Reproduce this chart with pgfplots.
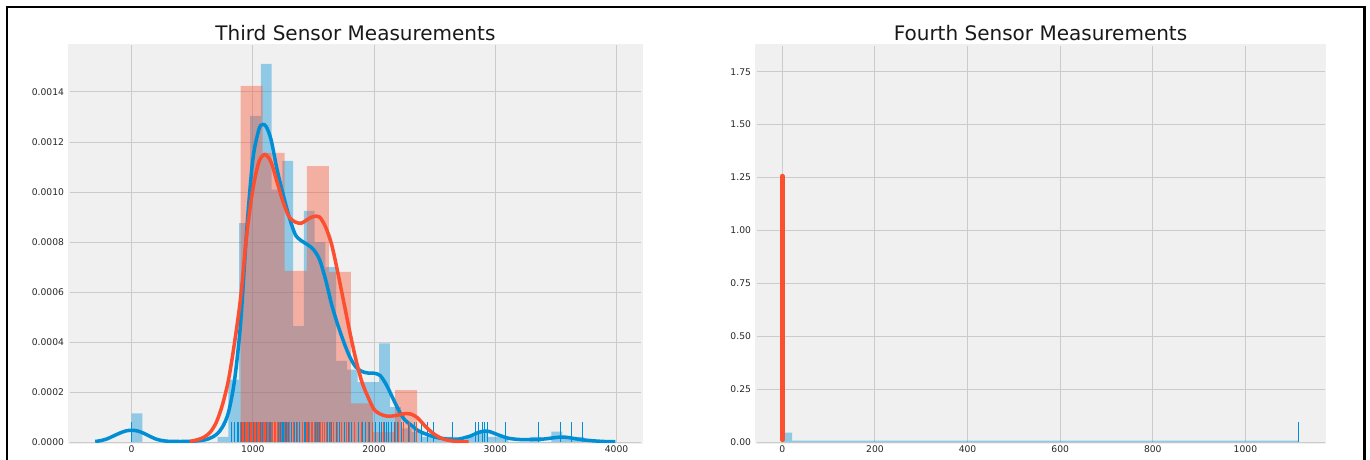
\documentclass[border=0pt]{standalone}
\usepackage{pgfplots}
\pgfplotsset{compat=1.18}
\usepackage{fontspec}
\setmainfont{DejaVu Sans}
\definecolor{cblue}{HTML}{008FD5}
\definecolor{cred}{HTML}{FC4F30}
\definecolor{bgc}{HTML}{F0F0F0}
\definecolor{gridc}{HTML}{CBCBCB}
\pgfplotsset{
  fte/.style={
    scale only axis,
    axis background/.style={fill=bgc, draw=bgc, line width=3pt},
    axis line style={draw=none},
    grid=major,
    major grid style={gridc, line width=1pt},
    major tick length=0pt,
    tick style={draw=none},
    tick label style={font=\fontsize{9.2}{11}\selectfont, text=black!85},
    /pgf/number format/assume math mode=true,
    /pgf/number format/set thousands separator={},
    scaled y ticks=false,
    scaled x ticks=false,
    every axis title/.style={at={(0.5,1)}, anchor=base, yshift=5pt, font=\fontsize{20}{24}\selectfont, text=black!90},
    yticklabel style={xshift=-2pt},
  }
}
\begin{document}
\begin{tikzpicture}
\useasboundingbox (0,0) rectangle (1370pt,459pt);
% ---------------- Left: Third sensor ----------------
\begin{axis}[fte,
  at={(69.5pt,17pt)}, anchor=south west,
  width=571.8pt, height=396.5pt,
  xmin=-512, xmax=4204, ymin=0, ymax=0.001586,
  xtick={0,1000,2000,3000,4000},
  ytick={0,0.0002,0.0004,0.0006,0.0008,0.0010,0.0012,0.0014},
  yticklabel style={/pgf/number format/.cd, fixed, fixed zerofill, precision=4},
  title={Third Sensor Measurements},
]
% blue histogram
\addplot[const plot mark left, fill=cblue, fill opacity=0.4, draw=none] coordinates {
(0,0.000115) (88.8,0) (710.4,0.000021) (799.2,0.00025) (888,0.000876) (976.8,0.001305)
(1065.6,0.001512) (1154.4,0.00101) (1243.2,0.001125) (1332,0.000464) (1420.8,0.000925)
(1509.6,0.0008) (1598.4,0.0007) (1687.2,0.000325) (1776,0.00029) (1864.8,0.00024)
(1953.6,0.00024) (2042.4,0.000395) (2131.2,0.00014) (2220,0.000055) (2308.8,0.00004)
(2397.6,0.000021) (2486.4,0.000021) (2575.2,0.000021) (2664,0) (2752.8,0.000021)
(2841.6,0.000042) (2930.4,0.000021) (3019.2,0.000021) (3108,0) (3285.6,0.000021)
(3374.4,0) (3463.2,0.000042) (3552,0.000021) (3640.8,0.000021) (3729.6,0)
} \closedcycle;
% red histogram
\addplot[const plot mark left, fill=cred, fill opacity=0.4, draw=none] coordinates {
(899,0.001424) (1081,0.001157) (1263,0.000685) (1445,0.001104) (1627,0.000681)
(1809,0.000155) (1991,0.00004) (2173,0.000208) (2355,0)
} \closedcycle;
% blue KDE
\addplot[cblue, line width=3.5pt, smooth, no marks] coordinates {
(-300,0.000002) (-250,0.000006) (-200,0.000013) (-150,0.000024) (-100,0.000035) (-50,0.000044)
(0,0.000047) (50,0.000044) (100,0.000035) (150,0.000023) (200,0.000012) (250,0.000006)
(300,0.000003) (400,0.000002) (500,0.000003) (600,0.000008) (650,0.000016) (700,0.00003)
(750,0.00006) (800,0.00012) (850,0.00025) (900,0.00048) (950,0.00085) (1000,0.00113)
(1050,0.00125) (1080,0.00127) (1110,0.001262) (1150,0.00121) (1200,0.00109) (1250,0.00099)
(1300,0.0009) (1350,0.00083) (1400,0.000805) (1450,0.00079) (1500,0.00077) (1550,0.00073)
(1600,0.00065) (1650,0.00055) (1700,0.00047) (1750,0.0004) (1800,0.00034) (1850,0.0003)
(1900,0.000282) (1950,0.000276) (2000,0.000275) (2050,0.000266) (2100,0.00023) (2150,0.00018)
(2200,0.00013) (2250,0.00009) (2300,0.00007) (2350,0.00005) (2400,0.000037) (2500,0.00002)
(2600,0.000012) (2700,0.000012) (2800,0.000025) (2850,0.000036) (2900,0.000043) (2950,0.000042)
(3000,0.000033) (3100,0.000016) (3200,0.00001) (3300,0.00001) (3400,0.000012) (3500,0.000018)
(3550,0.00002) (3600,0.000018) (3700,0.00001) (3800,0.000005) (3900,0.000002) (3990,0.000001)
};
% blue rug
\addplot[ycomb, cblue, line width=1pt, no marks] coordinates {
(0,0.0000793) (820,0.0000793) (845,0.0000793) (870,0.0000793) (885,0.0000793) (895,0.0000793)
(905,0.0000793) (918,0.0000793) (930,0.0000793) (942,0.0000793) (950,0.0000793) (961,0.0000793)
(972,0.0000793) (985,0.0000793) (993,0.0000793) (1004,0.0000793) (1012,0.0000793) (1020,0.0000793)
(1031,0.0000793) (1040,0.0000793) (1052,0.0000793) (1063,0.0000793) (1070,0.0000793) (1078,0.0000793)
(1085,0.0000793) (1093,0.0000793) (1101,0.0000793) (1110,0.0000793) (1118,0.0000793) (1126,0.0000793)
(1135,0.0000793) (1147,0.0000793) (1158,0.0000793) (1166,0.0000793) (1178,0.0000793) (1190,0.0000793)
(1203,0.0000793) (1214,0.0000793) (1230,0.0000793) (1245,0.0000793) (1252,0.0000793) (1263,0.0000793)
(1271,0.0000793) (1280,0.0000793) (1294,0.0000793) (1305,0.0000793) (1318,0.0000793) (1340,0.0000793)
(1362,0.0000793) (1385,0.0000793) (1408,0.0000793) (1425,0.0000793) (1436,0.0000793) (1447,0.0000793)
(1458,0.0000793) (1470,0.0000793) (1483,0.0000793) (1495,0.0000793) (1507,0.0000793) (1520,0.0000793)
(1535,0.0000793) (1548,0.0000793) (1562,0.0000793) (1575,0.0000793) (1590,0.0000793) (1604,0.0000793)
(1618,0.0000793) (1633,0.0000793) (1650,0.0000793) (1668,0.0000793) (1690,0.0000793) (1712,0.0000793)
(1735,0.0000793) (1760,0.0000793) (1790,0.0000793) (1815,0.0000793) (1842,0.0000793) (1870,0.0000793)
(1905,0.0000793) (1930,0.0000793) (1962,0.0000793) (1990,0.0000793) (2015,0.0000793) (2048,0.0000793)
(2060,0.0000793) (2075,0.0000793) (2088,0.0000793) (2102,0.0000793) (2118,0.0000793) (2140,0.0000793)
(2165,0.0000793) (2195,0.0000793) (2230,0.0000793) (2280,0.0000793) (2330,0.0000793) (2390,0.0000793)
(2439,0.0000793) (2493,0.0000793) (2645,0.0000793) (2837,0.0000793) (2865,0.0000793) (2893,0.0000793)
(2914,0.0000793) (2939,0.0000793) (3087,0.0000793) (3359,0.0000793) (3538,0.0000793) (3626,0.0000793)
(3722,0.0000793)
};
% red KDE
\addplot[cred, line width=3.5pt, smooth, no marks] coordinates {
(480,0.000002) (550,0.00001) (600,0.00002) (650,0.00004) (700,0.00008) (750,0.00015)
(800,0.00025) (850,0.0004) (900,0.00058) (950,0.00083) (1000,0.00101) (1050,0.00112)
(1100,0.00115) (1150,0.00112) (1200,0.00104) (1250,0.00096) (1300,0.0009) (1350,0.00088)
(1400,0.000875) (1450,0.00089) (1500,0.000902) (1550,0.0009) (1600,0.00086) (1650,0.00079)
(1700,0.00068) (1750,0.00056) (1800,0.00044) (1850,0.00033) (1900,0.00024) (1950,0.00018)
(2000,0.00013) (2050,0.000112) (2100,0.000104) (2150,0.000104) (2200,0.000108) (2250,0.000113)
(2300,0.000112) (2350,0.0001) (2400,0.000075) (2450,0.00005) (2500,0.00003) (2550,0.000016)
(2600,0.000008) (2650,0.000004) (2700,0.000002) (2780,0)
};
% red rug
\addplot[ycomb, cred, line width=1pt, no marks] coordinates {
(900,0.0000793) (912,0.0000793) (925,0.0000793) (938,0.0000793) (946,0.0000793) (958,0.0000793)
(967,0.0000793) (980,0.0000793) (990,0.0000793) (1001,0.0000793) (1010,0.0000793) (1022,0.0000793)
(1035,0.0000793) (1044,0.0000793) (1056,0.0000793) (1068,0.0000793) (1075,0.0000793) (1088,0.0000793)
(1097,0.0000793) (1106,0.0000793) (1120,0.0000793) (1132,0.0000793) (1150,0.0000793) (1163,0.0000793)
(1175,0.0000793) (1188,0.0000793) (1200,0.0000793) (1222,0.0000793) (1240,0.0000793) (1258,0.0000793)
(1282,0.0000793) (1300,0.0000793) (1335,0.0000793) (1372,0.0000793) (1410,0.0000793) (1440,0.0000793)
(1452,0.0000793) (1466,0.0000793) (1480,0.0000793) (1494,0.0000793) (1510,0.0000793) (1525,0.0000793)
(1540,0.0000793) (1556,0.0000793) (1572,0.0000793) (1590,0.0000793) (1610,0.0000793) (1640,0.0000793)
(1665,0.0000793) (1700,0.0000793) (1735,0.0000793) (1770,0.0000793) (1800,0.0000793) (1840,0.0000793)
(1900,0.0000793) (1950,0.0000793) (1985,0.0000793) (2080,0.0000793) (2180,0.0000793) (2205,0.0000793)
(2240,0.0000793) (2290,0.0000793) (2350,0.0000793)
};
\end{axis}
% ---------------- Right: Fourth sensor ----------------
\begin{axis}[fte,
  at={(756.5pt,17pt)}, anchor=south west,
  width=568pt, height=396.5pt,
  xmin=-55.75, xmax=1170.75, ymin=0, ymax=1.874,
  xtick={0,200,400,600,800,1000},
  ytick={0,0.25,0.5,0.75,1,1.25,1.5,1.75},
  yticklabel style={/pgf/number format/.cd, fixed, fixed zerofill, precision=2},
  title={Fourth Sensor Measurements},
]
\addplot[const plot mark left, fill=cblue, fill opacity=0.4, draw=none] coordinates {
(0,0.044) (21,0.006) (1115,0)
} \closedcycle;
\addplot[ycomb, cblue, line width=1.2pt, no marks] coordinates {
(0,0.0937) (1115,0.0937)
};
\addplot[cred, line width=4.4pt, line cap=round, no marks] coordinates {
(0,0.01) (0,1.257)
};
\addplot[ycomb, cred, line width=1.2pt, no marks] coordinates {
(0,0.0937)
};
\end{axis}
% outer frame
\draw[black, line width=2.5pt] (7pt,-10pt) -- (7pt,452pt) -- (1364.5pt,452pt) -- (1364.5pt,-10pt);
\end{tikzpicture}
\end{document}
